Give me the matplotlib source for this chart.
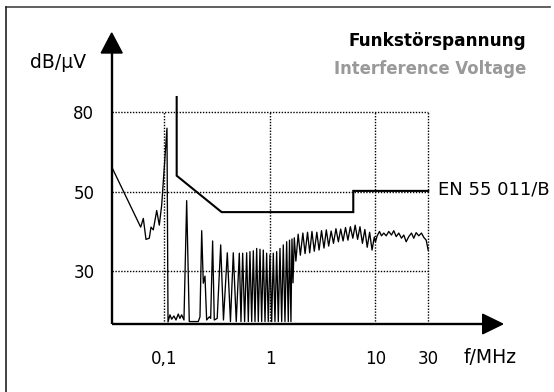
import numpy as np
import matplotlib
matplotlib.use("Agg")
import matplotlib.pyplot as plt
from matplotlib.patches import Polygon
from matplotlib.lines import Line2D

# ---------------- data ----------------
# measured interference voltage, f in MHz, level in dB/uV
low_f = [0.0316, 0.0595, 0.0630, 0.0668, 0.0718, 0.0745, 0.0783, 0.0844, 0.0893, 0.0941,
         0.1056, 0.108, 0.1127, 0.117, 0.123, 0.1285, 0.135, 0.140, 0.1455, 0.153,
         0.1623, 0.1718, 0.209, 0.217, 0.2253, 0.2333, 0.242, 0.251, 0.266, 0.274,
         0.286, 0.2965, 0.316]
low_db = [59.4, 41.1, 43.3, 38.0, 38.3, 41.1, 40.4, 45.3, 41.6, 46.7,
          73.9, 17.1, 18.9, 17.8, 18.6, 17.6, 19.1, 18.0, 18.9, 17.6,
          47.8, 17.2, 17.2, 18.4, 40.2, 26.9, 28.7, 17.6, 18.4, 18.0,
          37.6, 17.6, 18.0]

comb_f = [0.341, 0.3623, 0.394, 0.422, 0.449, 0.479, 0.512, 0.531, 0.551, 0.575,
          0.601, 0.623, 0.646, 0.671, 0.695, 0.721, 0.748, 0.775, 0.804, 0.834,
          0.864, 0.897, 0.930, 0.963, 1.0, 1.038, 1.075, 1.115, 1.157, 1.199,
          1.244, 1.291, 1.337, 1.387, 1.439, 1.491, 1.532, 1.58, 1.616, 1.653]
comb_db = [36.6, 17.6, 34.6, 17.2, 34.6, 17.2, 34.5, 17.2, 34.5, 17.2,
           34.6, 17.2, 34.9, 17.2, 35.1, 17.2, 35.7, 17.2, 35.5, 17.2,
           35.3, 17.2, 34.5, 17.2, 34.1, 17.2, 34.5, 17.2, 34.9, 17.2,
           35.7, 17.2, 36.6, 17.2, 37.4, 17.2, 37.8, 17.2, 38.1, 27.0]

mid_f = [1.70, 1.76, 1.85, 1.94, 2.05, 2.15, 2.27, 2.38, 2.50, 2.63,
         2.78, 2.92, 3.08, 3.25, 3.42, 3.60, 3.80, 4.00, 4.22, 4.45,
         4.68, 4.93, 5.20, 5.48, 5.78, 6.10, 6.42, 6.77, 7.13, 7.52,
         7.93, 8.35, 8.80, 9.28, 9.75, 10.0]
mid_db = [38.4, 32.5, 39.3, 34.0, 39.6, 34.4, 39.8, 34.6, 40.0, 35.0,
          39.8, 35.3, 40.2, 35.8, 40.4, 36.3, 40.1, 37.0, 40.7, 37.4,
          40.6, 37.6, 41.0, 37.8, 41.2, 38.3, 41.6, 38.0, 41.2, 37.0,
          40.5, 36.0, 39.8, 35.3, 38.6, 37.4]

high_f = [10.36, 10.87, 11.33, 11.89, 12.50, 13.19, 13.95, 14.64, 15.39, 16.24,
          17.19, 18.03, 18.95, 20.01, 21.17, 22.20, 23.34, 24.64, 26.07, 27.35,
          28.75, 29.97]
high_db = [38.9, 40.0, 38.9, 39.6, 38.9, 40.0, 39.1, 40.2, 38.7, 39.6,
           38.3, 39.1, 37.4, 38.7, 39.6, 38.3, 39.7, 38.9, 39.6, 38.5,
           37.8, 35.3]

# limit line EN 55 011/B
lim_f = [0.1305, 0.1305, 0.348, 6.16, 6.16, 30.0]
lim_db = [85.6, 56.1, 44.9, 44.9, 50.4, 50.4]

x_ticks = [0.1, 1, 10, 30]
x_labels = ["0,1", "1", "10", "30"]
y_ticks = [30, 50, 80]
y_labels = ["30", "50", "80"]

# ---------------- scales (drawing is a sketch: piecewise axes) ----------------
L30 = np.log10(30.0)
XP_L = [-3.0, 1.0, L30, 4.0]
XP_P = [-1.0, 3.0, 3.5, 3.5 + (4.0 - L30) * 0.5 / np.log10(3.0)]


def fwd_x(f):
    f = np.clip(np.asarray(f, dtype=float), 1e-3, None)
    return np.interp(np.log10(f), XP_L, XP_P)


def inv_x(p):
    return 10 ** np.interp(np.asarray(p, dtype=float), XP_P, XP_L)


YP_D = [-100.0, 30.0, 50.0, 80.0, 300.0]
YP_P = [53 - 130 * 3.95, 53.0, 132.0, 212.0, 212 + 220 * 80 / 30]


def fwd_y(d):
    return np.interp(np.asarray(d, dtype=float), YP_D, YP_P)


def inv_y(p):
    return np.interp(np.asarray(p, dtype=float), YP_P, YP_D)


# ---------------- figure ----------------
W, H = 554, 392
fig = plt.figure(figsize=(W / 100, H / 100), dpi=100)
fig.patch.set_facecolor("white")


def fxy(x, y):
    return x / W, 1 - y / H


ax = fig.add_axes([111.7 / W, (H - 324) / H, 391 / W, 291 / H])
ax.set_xscale("function", functions=(fwd_x, inv_x))
ax.set_yscale("function", functions=(fwd_y, inv_y))
ax.set_xlim(0.0316, 141.5)
ax.set_ylim(16.58, 109.6)
ax.patch.set_alpha(0)
for s in ax.spines.values():
    s.set_visible(False)

# grid box (dotted)
dots = (0, (1.0, 1.1))
ax.hlines(y_ticks, 0.0316, 30, colors="black", linestyles=dots, lw=1.0, zorder=1)
ax.vlines(x_ticks, 16.58, 80, colors="black", linestyles=dots, lw=1.0, zorder=1)

# measured curve
meas_f = low_f + comb_f + mid_f + high_f
meas_db = low_db + comb_db + mid_db + high_db
ax.plot(meas_f, meas_db, color="black", lw=0.95, zorder=3, clip_on=False)

# limit line
ax.plot(lim_f, lim_db, color="black", lw=1.5, zorder=4, solid_joinstyle="miter")

# axes with arrows
ax.plot([0, 0], [0, 0.932], transform=ax.transAxes, color="black", lw=1.7,
        clip_on=False, solid_capstyle="butt", zorder=5)
ax.plot([0, 0.949], [0, 0], transform=ax.transAxes, color="black", lw=1.7,
        clip_on=False, solid_capstyle="butt", zorder=5)
ax.add_patch(Polygon([(-10.5 / 391, 0.9313), (10.5 / 391, 0.9313), (0, 1.0)],
                     closed=True, transform=ax.transAxes, facecolor="black",
                     edgecolor="black", clip_on=False, zorder=5))
ax.add_patch(Polygon([(0.9488, -9.8 / 291), (0.9488, 9.8 / 291), (1.0, 0)],
                     closed=True, transform=ax.transAxes, facecolor="black",
                     edgecolor="black", clip_on=False, zorder=5))

# ticks
ax.set_xticks(x_ticks, x_labels)
ax.set_yticks(y_ticks, y_labels)
ax.minorticks_off()
ax.tick_params(axis="x", length=0, pad=19.0, labelsize=12)
ax.tick_params(axis="y", length=0, pad=12.5, labelsize=12)

# axis unit labels
fig.text(*fxy(58.5, 67.5), "dB/μV", fontsize=13.5, ha="center", va="baseline")
fig.text(*fxy(490, 363.3), "f/MHz", fontsize=13.5, ha="center", va="baseline")

# titles
fig.text(*fxy(526, 45.7), "Funkstörspannung", fontsize=12.2, fontweight="bold",
         ha="right", va="baseline", color="black")
fig.text(*fxy(526, 74), "Interference Voltage", fontsize=11.9, fontweight="bold",
         ha="right", va="baseline", color="#999999")

# limit label
fig.text(*fxy(438, 194), "EN 55 011/B", fontsize=13, ha="left", va="baseline")

# frame
fig.add_artist(Line2D([6 / W, 550 / W], [1 - 7 / H, 1 - 7 / H],
                      transform=fig.transFigure, color="#444444", lw=1.2))
fig.add_artist(Line2D([6 / W, 6 / W], [1 - 7 / H, 0],
                      transform=fig.transFigure, color="#222222", lw=1.2))

fig.savefig("out.png", dpi=100)
